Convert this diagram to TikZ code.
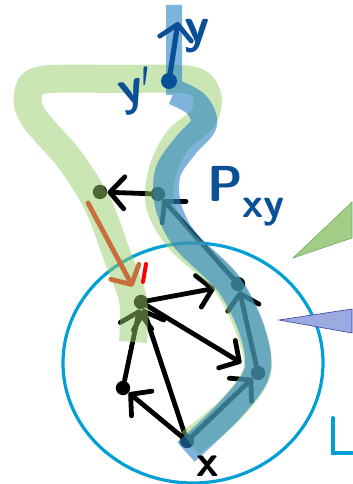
\documentclass[tikz,border=0pt]{standalone}
\usetikzlibrary{arrows.meta}
\definecolor{inkblue}{RGB}{10,80,150}
\definecolor{hlblue}{RGB}{40,128,195}
\definecolor{hlgreen}{RGB}{150,205,105}
\definecolor{ringblue}{RGB}{0,160,215}
\definecolor{rust}{RGB}{200,110,60}
\definecolor{wedgegreen}{RGB}{163,205,135}
\definecolor{wedgeblue}{RGB}{155,170,225}
\tikzset{
  vertex/.style={circle, fill=black, minimum size=3.6mm, inner sep=0pt},
  inkvertex/.style={circle, fill=inkblue, minimum size=4mm, inner sep=0pt},
  barb/.style={-{Straight Barb[length=3.6mm, width=8mm, line width=1.2mm, round]}},
  arrow/.style={barb, line width=1.2mm, line cap=round, black},
  inkarrow/.style={barb, line width=1.3mm, line cap=round, inkblue},
  rustarrow/.style={barb, line width=1.2mm, line cap=round, rust},
  greenband/.style={draw=hlgreen, line width=7mm, line join=round},
  blueband/.style={draw=hlblue, line width=6.5mm, line join=round},
  ring/.style={draw=ringblue, line width=0.8mm},
  inklabel/.style={text=inkblue, font=\sffamily\bfseries\fontsize{36}{36}\selectfont, inner sep=0pt}
}
\begin{document}
\begin{tikzpicture}[x=0.25mm, y=-0.25mm]
  \useasboundingbox (0,0) rectangle (352,484);
  % vertices
  \node[vertex] (x) at (187,441) {};
  \node[vertex] (f) at (123,388) {};
  \node[vertex] (c) at (141,302) {};
  \node[vertex] (e) at (258,373) {};
  \node[vertex] (d) at (238,284) {};
  \node[vertex] (a) at (158,194) {};
  \node[vertex] (b) at (100,192) {};
  % edges (under the highlighter)
  \draw[arrow] (x) -- (f);
  \draw[arrow] (f) -- (c);
  \draw[arrow] (x) -- (c);
  \draw[arrow, shorten >=4mm] (c) -- (d);
  \draw[arrow, shorten >=3mm] (c) -- (e);
  \draw[arrow] (a) -- (b);
  \draw[arrow] (x) -- (e);
  \draw[arrow] (e) -- (d);
  \draw[arrow] (d) -- (a);
  % neighbourhood
  \draw[ring] (193,363) ellipse (32.5mm and 30mm);
  % highlighted paths
  \begin{scope}[transparency group, opacity=0.5]
    \draw[greenband] plot[smooth, tension=0.55] coordinates {(133,342) (133,300) (118,258) (98,205) (70,160) (34,118) (28,95) (42,80) (120,79) (190,80) (207,95) (203,118) (178,140) (163,170) (160,205) (180,240) (225,282) (250,330) (257,372) (230,410) (190,443)};
  \end{scope}
  \begin{scope}[transparency group, opacity=0.6]
    \draw[blueband, line width=4mm] (174,5) -- (174,95);
    \draw[blueband] plot[smooth, tension=0.55] coordinates {(174,92) (196,104) (204,124) (186,145) (168,172) (168,205) (185,240) (228,283) (252,330) (257,372) (230,410) (186,452)};
  \end{scope}
  % pointers
  \fill[wedgegreen, draw=green!45!black!60!white] (293,258) -- (352,202) -- (352,238) -- cycle;
  \fill[wedgeblue, draw=blue!55!black!80!white] (279,320) -- (352,309) -- (352,333) -- cycle;
  % detour
  \coordinate (o) at (88,203);
  \draw[rustarrow, shorten >=2.5mm] (o) -- (c);
  \draw[red, line width=1mm, line cap=round] (146,264) -- (143,282);
  % endpoints
  \node[inkvertex] (yp) at (169,81) {};
  \coordinate (ytop) at (178,22);
  \draw[inkarrow] (yp) -- (ytop);
  \node[inklabel] (ylab) at (197,36) {y};
  \node[inklabel, rotate=15] (yplab) at (137,91) {y$'$};
  \node[inklabel, anchor=west] (plab) at (207,196) {P\raisebox{-4mm}{\fontsize{30}{30}\selectfont xy}};
  \node[font=\sffamily\bfseries\fontsize{32}{32}\selectfont, inner sep=0pt] (xlab) at (208,466) {x};
  \draw[ringblue, line width=1mm, line cap=round] (333,418) -- (333,453) -- (352,453);
\end{tikzpicture}
\end{document}
